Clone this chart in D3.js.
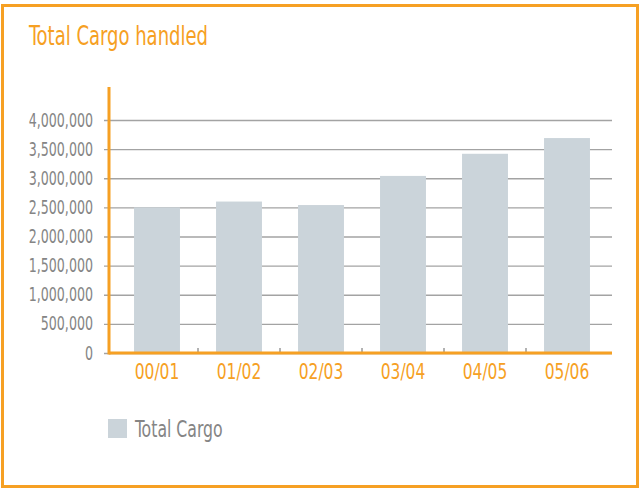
<!DOCTYPE html>
<html>
<head>
<meta charset="utf-8">
<script src="https://cdn.jsdelivr.net/npm/d3@7"></script>
<style>
  body { margin: 0; background: #fff; }
  svg text { font-family: "Liberation Sans Narrow", "DejaVu Sans Condensed", sans-serif; }
</style>
</head>
<body>
<div id="container"></div>
<script>
/**
 * CONSTANTS AND GLOBALS
 * */
const width = 642,
  height = 488,
  margin = { top: 120, bottom: 135, left: 116, right: 34 };

const orange = "#F6A023",
  barColor = "#CBD4DA",
  textGray = "#858585";

/**
 * DATA
 * */
const years = ["00/01", "01/02", "02/03", "03/04", "04/05", "05/06"];
const totalCargo = [2500000, 2600000, 2540000, 3040000, 3420000, 3690000];
const yTicks = [0, 500000, 1000000, 1500000, 2000000, 2500000, 3000000, 3500000, 4000000];
const seriesName = "Total Cargo";
const title = "Total Cargo handled";

const svg = d3.select("#container")
  .append("svg")
  .attr("width", width)
  .attr("height", height);

// the original face is a condensed grotesque; squeeze the fallback horizontally
function squeezedText(parent, px, py, str, sx) {
  return parent.append("text")
    .attr("transform", `translate(${px},${py}) scale(${sx},1)`)
    .text(str);
}

// frame
svg.append("rect")
  .attr("x", 2.5)
  .attr("y", 5.5)
  .attr("width", 635)
  .attr("height", 481)
  .attr("fill", "none")
  .attr("stroke", orange)
  .attr("stroke-width", 3);

squeezedText(svg, 29, 45, title, 0.77)
  .attr("fill", orange)
  .attr("font-size", 26);

const x = d3.scaleBand()
  .domain(years)
  .range([margin.left, width - margin.right])
  .paddingInner(0.44)
  .paddingOuter(0.22);

const y = d3.scaleLinear()
  .domain([0, 4000000])
  .range([353, 120]);

// gridlines + y labels
const ySqueeze = 0.74;
const yAxis = d3.axisLeft(y)
  .tickValues(yTicks)
  .tickFormat(d3.format(","))
  .tickSize(-(612 - 104))
  .tickPadding(11);

const gy = svg.append("g")
  .attr("transform", "translate(104,0)")
  .call(yAxis);
gy.select(".domain").remove();
gy.selectAll(".tick line").attr("stroke", "#a3a3a3").attr("stroke-width", 1.3);
gy.selectAll(".tick text")
  .attr("fill", textGray)
  .attr("font-size", 19)
  .attr("font-family", "Liberation Sans Narrow, DejaVu Sans Condensed, sans-serif")
  .attr("x", -11 / ySqueeze)
  .attr("transform", `scale(${ySqueeze},1)`);

// bars
svg.selectAll(".bar")
  .data(years.map((d, i) => ({ year: d, value: totalCargo[i] })))
  .join("rect")
  .attr("class", "bar")
  .attr("x", d => x(d.year))
  .attr("width", x.bandwidth())
  .attr("y", d => y(d.value))
  .attr("height", d => y(0) - y(d.value))
  .attr("fill", barColor);

// category separators (small ticks on the baseline)
const step = x.step();
svg.selectAll(".sep")
  .data(years.slice(1))
  .join("line")
  .attr("class", "sep")
  .attr("x1", d => x(d) - x.paddingInner() * step / 2)
  .attr("x2", d => x(d) - x.paddingInner() * step / 2)
  .attr("y1", y(0) - 5)
  .attr("y2", y(0))
  .attr("stroke", "#666")
  .attr("stroke-width", 1);

// orange axes
svg.append("line")
  .attr("x1", 109).attr("x2", 612)
  .attr("y1", y(0)).attr("y2", y(0))
  .attr("stroke", orange).attr("stroke-width", 3);
svg.append("line")
  .attr("x1", 109).attr("x2", 109)
  .attr("y1", 87).attr("y2", y(0) + 1.5)
  .attr("stroke", orange).attr("stroke-width", 3);

// x labels
years.forEach(d => {
  squeezedText(svg, x(d) + x.bandwidth() / 2, 379, d, 0.84)
    .attr("text-anchor", "middle")
    .attr("fill", orange)
    .attr("font-size", 20.5);
});

// legend
svg.append("rect")
  .attr("x", 108).attr("y", 419)
  .attr("width", 19).attr("height", 19)
  .attr("fill", barColor);
squeezedText(svg, 135, 437, seriesName, 0.76)
  .attr("fill", textGray)
  .attr("font-size", 23);
</script>
</body>
</html>
